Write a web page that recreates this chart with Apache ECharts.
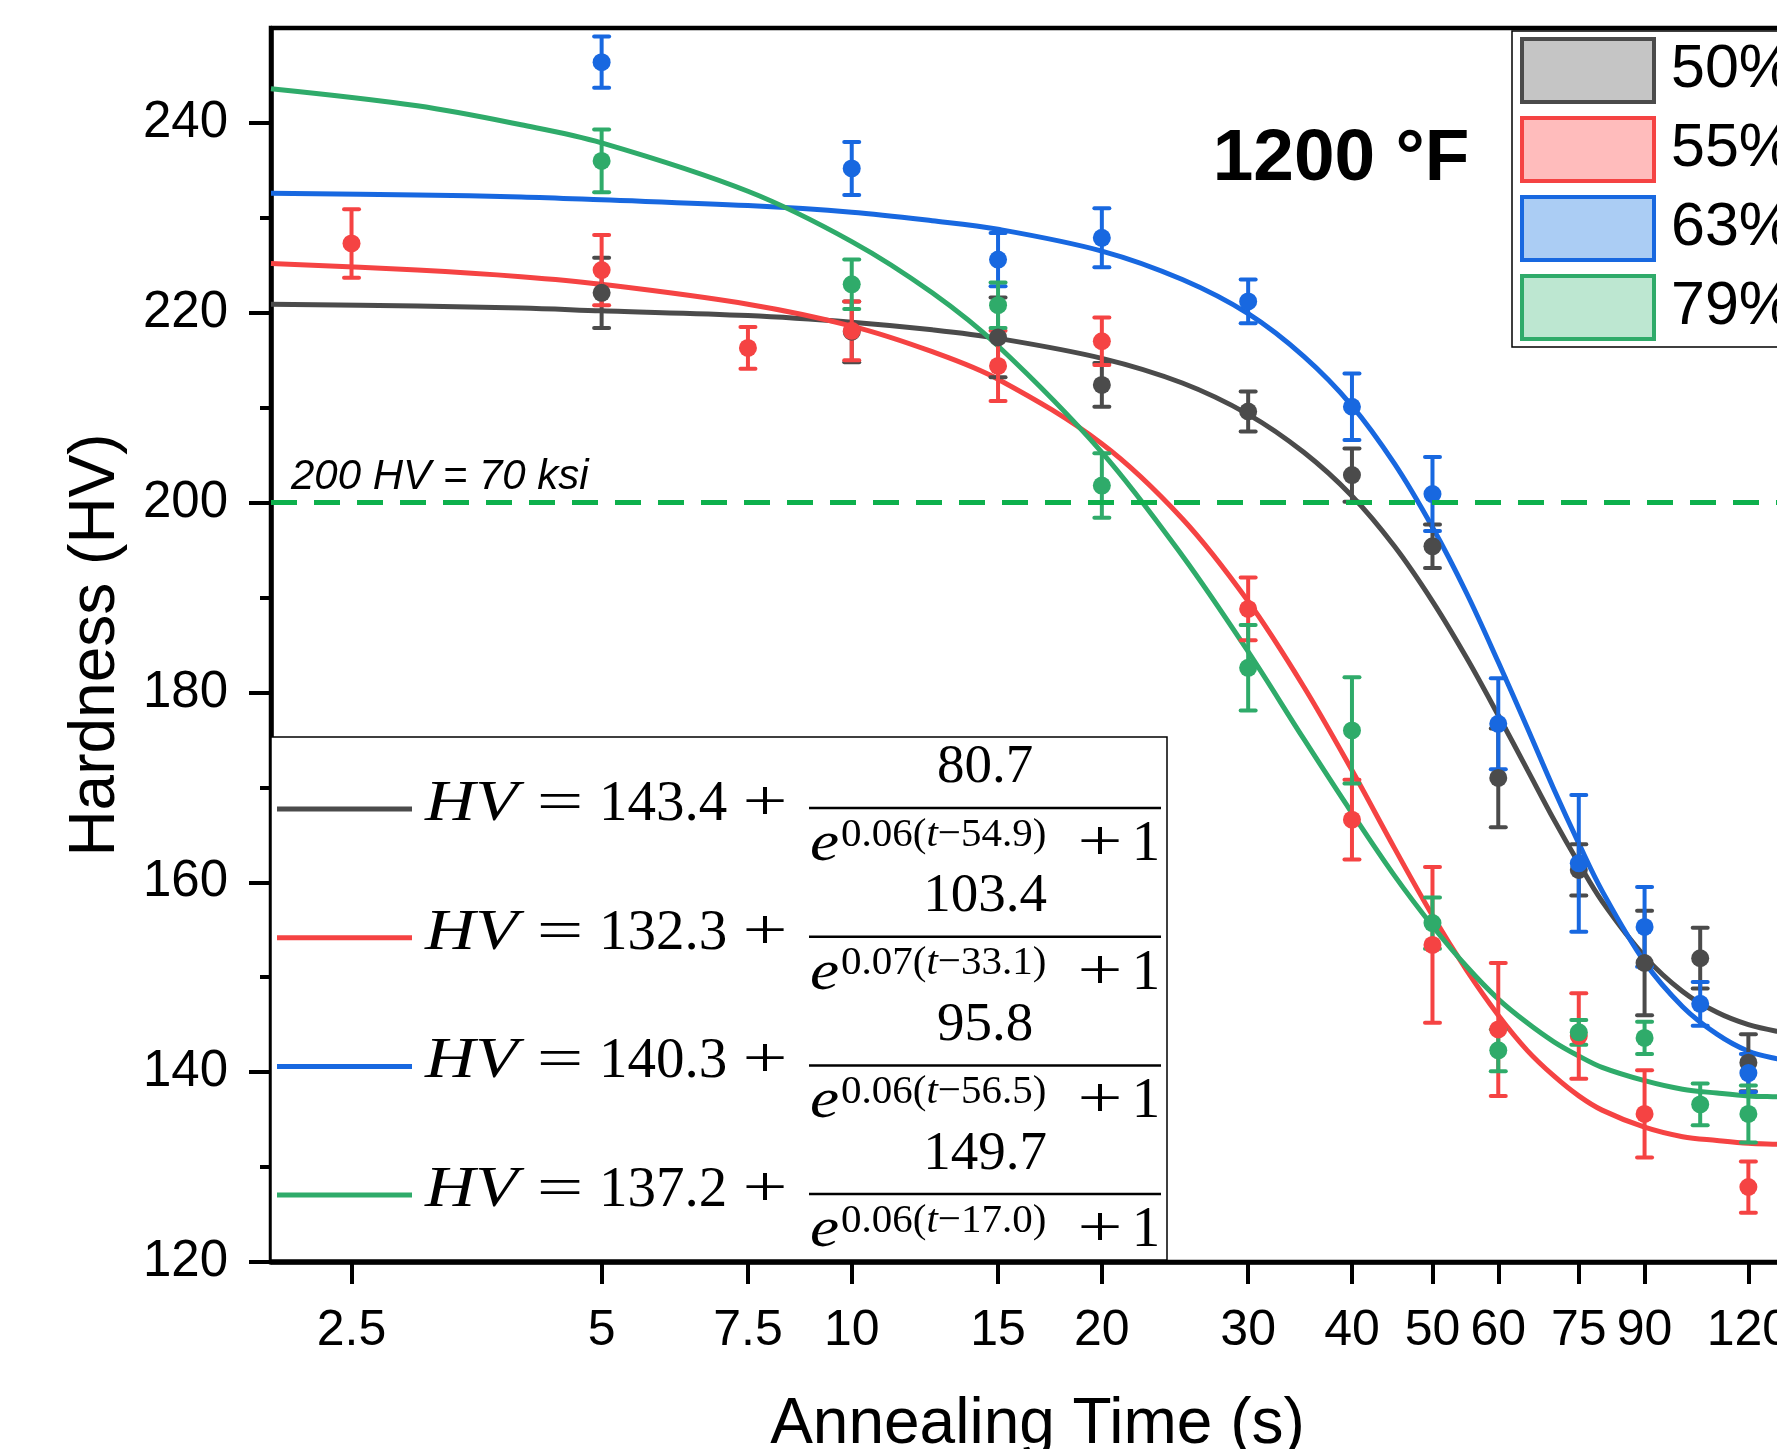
<!DOCTYPE html>
<html><head><meta charset="utf-8">
<script src="https://cdn.jsdelivr.net/npm/echarts@6/dist/echarts.min.js"></script>
<style>html,body{margin:0;padding:0;overflow:hidden;background:#fff}#c{width:1900px;height:1500px}</style>
</head><body><div id="c"></div><script>
// ---- data ----
const seriesNames = ['50%', '55%', '63%', '79%'];
const xTickLabels = [2.5, 5, 7.5, 10, 15, 20, 30, 40, 50, 60, 75, 90, 120];
const yTickLabels = [120, 140, 160, 180, 200, 220, 240];
const yMinorTicks = [130, 150, 170, 190, 210, 230];

const t50 = [5, 10, 15, 20, 30, 40, 50, 60, 75, 90, 105, 120];
const hv50 = [222.1, 218.0, 217.4, 212.4, 209.6, 202.9, 195.4, 171.0, 161.3, 151.5, 152.0, 141.0];
const err50 = [3.7, 3.2, 4.2, 2.3, 2.1, 2.8, 2.3, 5.2, 2.7, 5.5, 3.2, 3.0];

const t55 = [2.5, 5, 7.5, 10, 15, 20, 30, 40, 50, 60, 75, 90, 120];
const hv55 = [227.3, 224.5, 216.3, 218.1, 214.4, 217.0, 188.8, 166.6, 153.4, 144.5, 143.8, 135.6, 127.9];
const err55 = [3.6, 3.7, 2.2, 3.1, 3.7, 2.5, 3.3, 4.2, 8.2, 7.0, 4.5, 4.6, 2.7];

const t63 = [5, 10, 15, 20, 30, 40, 50, 60, 75, 90, 105, 120];
const hv63 = [246.4, 235.2, 225.6, 227.9, 221.2, 210.1, 200.9, 176.7, 162.0, 155.3, 147.2, 139.9];
const err63 = [2.7, 2.8, 2.8, 3.1, 2.3, 3.5, 3.9, 4.8, 7.2, 4.2, 2.3, 2.0];

const t79 = [5, 10, 15, 20, 30, 40, 50, 60, 75, 90, 105, 120];
const hv79 = [236.0, 223.0, 220.8, 201.8, 182.6, 176.0, 155.7, 142.3, 144.2, 143.6, 136.6, 135.6];
const err79 = [3.3, 2.6, 2.4, 3.4, 4.5, 5.6, 2.7, 2.2, 1.3, 1.7, 2.2, 3.0];

// fitted curves
const fitT = [2, 3, 4, 5, 7.5, 10, 12.5, 15, 20, 25, 30, 35, 40, 45, 50, 55, 60, 65, 70, 75, 80, 90, 100, 110, 120, 130, 140];
const fit50 = [220.9, 220.7, 220.5, 220.2, 219.7, 219.0, 218.2, 217.3, 215.2, 212.6, 209.3, 205.3, 200.7, 195.4, 189.6, 183.6, 177.6, 171.9, 166.6, 162.0, 158.0, 152.2, 148.5, 146.3, 145.0, 144.3, 143.9];
const fit55 = [225.2, 224.5, 223.8, 223.0, 220.9, 218.6, 215.9, 213.0, 206.2, 198.3, 189.6, 180.6, 171.8, 163.6, 156.5, 150.7, 146.0, 142.3, 139.6, 137.5, 136.0, 134.2, 133.2, 132.8, 132.5, 132.4, 132.3];
const fit63 = [232.6, 232.4, 232.2, 231.9, 231.3, 230.6, 229.7, 228.8, 226.5, 223.5, 219.9, 215.4, 210.2, 204.1, 197.4, 190.4, 183.2, 176.3, 169.8, 164.1, 159.1, 151.6, 146.9, 144.0, 142.2, 141.4, 140.9];
const fit79 = [243.6, 241.8, 239.8, 237.9, 232.8, 227.5, 222.1, 216.5, 205.3, 194.4, 184.3, 175.1, 167.3, 160.7, 155.4, 151.1, 147.7, 145.2, 143.2, 141.7, 140.5, 139.1, 138.2, 137.8, 137.5, 137.4, 137.3];

// equation texts
const eqA = ['143.4', '132.3', '140.3', '137.2'];
const eqB = ['80.7', '103.4', '95.8', '149.7'];
const eqK = ['0.06', '0.07', '0.06', '0.06'];
const eqT0 = ['54.9', '33.1', '56.5', '17.0'];

const thresholdHV = 200;
const thresholdText = '200 HV = 70 ksi';
const titleText = '1200 °F';

// ---- styles ----
const lineColors = ['#4b4b4b', '#f54343', '#1868e0', '#2fab6a'];
const fillColors = ['#c5c5c5', '#ffbcbc', '#abcdf4', '#bde7d1'];
const SANS = '"Liberation Sans", Arial, sans-serif';
const SERIF = '"Liberation Serif", "Times New Roman", serif';

const pts = [[t50, hv50, err50], [t55, hv55, err55], [t63, hv63, err63], [t79, hv79, err79]];
const fits = [fit50, fit55, fit63, fit79];

const series = [];
fits.forEach((f, i) => {
  const s = {
    type: 'line', name: 'fit' + i, data: fitT.map((t, j) => [t, f[j]]),
    showSymbol: false, smooth: 0.35, lineStyle: { color: lineColors[i], width: 5 },
    z: 2, silent: true
  };
  if (i === 0) {
    s.markLine = {
      symbol: 'none', silent: true, animation: false,
      data: [{ yAxis: thresholdHV }],
      lineStyle: { color: '#0db04c', width: 5, type: [26, 17] },
      label: { show: false }
    };
  }
  series.push(s);
});
pts.forEach((p, i) => {
  const [ts, hv, er] = p;
  const col = lineColors[i];
  series.push({
    type: 'custom', name: 'err' + i, z: 3, silent: true,
    data: ts.map((t, j) => [t, hv[j] - er[j], hv[j] + er[j]]),
    encode: { x: 0, y: [1, 2] },
    renderItem: (params, api) => {
      const t = api.value(0);
      const p1 = api.coord([t, api.value(2)]);
      const p2 = api.coord([t, api.value(1)]);
      const hw = 7.5;
      const st = { stroke: col, lineWidth: 4, lineCap: 'round' };
      return {
        type: 'group', children: [
          { type: 'line', shape: { x1: p1[0], y1: p1[1], x2: p2[0], y2: p2[1] }, style: { stroke: col, lineWidth: 4 } },
          { type: 'line', shape: { x1: p1[0] - hw, y1: p1[1], x2: p1[0] + hw, y2: p1[1] }, style: st },
          { type: 'line', shape: { x1: p2[0] - hw, y1: p2[1], x2: p2[0] + hw, y2: p2[1] }, style: st }
        ]
      };
    }
  });
  series.push({
    type: 'scatter', name: seriesNames[i], z: 4,
    data: ts.map((t, j) => [t, hv[j]]),
    symbol: 'circle', symbolSize: 18,
    itemStyle: { color: col, opacity: 1 }
  });
});

// ---- equation legend (graphic) ----
const graphics = [];
const eqBox = { x: 271, y: 737, w: 896, h: 523 };
graphics.push({ type: 'rect', shape: { x: eqBox.x, y: eqBox.y, width: eqBox.w, height: eqBox.h }, style: { fill: '#fff', stroke: '#000', lineWidth: 1.5 }, z: 10 });
function txt(text, x, y, font, align, sx) {
  return {
    type: 'text', z: 11, x: x, y: y, scaleX: sx || 1,
    style: { text: text, font: font, fill: '#000', align: align, verticalAlign: 'middle', textAlign: align, textVerticalAlign: 'middle' }
  };
}
for (let i = 0; i < 4; i++) {
  const by = 808 + i * 128.7;
  graphics.push({ type: 'line', z: 11, shape: { x1: 277, y1: by + 1, x2: 412, y2: by + 1 }, style: { stroke: lineColors[i], lineWidth: 5 } });
  graphics.push(txt('HV', 425, by - 3, 'italic 57px ' + SERIF, 'left', 1.22));
  graphics.push(txt('=', 560, by - 3, '57px ' + SERIF, 'center', 1.45));
  graphics.push(txt(eqA[i], 599, by - 3, '57px ' + SERIF, 'left'));
  graphics.push(txt('+', 765, by - 3, '57px ' + SERIF, 'center', 1.4));
  graphics.push({ type: 'line', z: 11, shape: { x1: 809, y1: by, x2: 1161, y2: by }, style: { stroke: '#000', lineWidth: 2.5 } });
  graphics.push(txt(eqB[i], 985, by - 40, '55px ' + SERIF, 'center'));
  graphics.push(txt('e', 810, by + 37, 'italic 57px ' + SERIF, 'left', 1.15));
  graphics.push({
    type: 'text', z: 11, x: 841, y: by + 27,
    style: {
      text: '{n|' + eqK[i] + '(}{i|t}{n|\u2212' + eqT0[i] + ')}',
      align: 'left', verticalAlign: 'middle', textAlign: 'left', textVerticalAlign: 'middle',
      rich: {
        n: { font: '41px ' + SERIF, fill: '#000', fontSize: 41, fontFamily: SERIF },
        i: { font: 'italic 41px ' + SERIF, fill: '#000', fontSize: 41, fontFamily: SERIF, fontStyle: 'italic' }
      }
    }
  });
  graphics.push(txt('+', 1100, by + 37, '57px ' + SERIF, 'center', 1.4));
  graphics.push(txt('1', 1146, by + 37, '57px ' + SERIF, 'center'));
}
graphics.push(txt(thresholdText, 291, 477, 'italic 42px ' + SANS, 'left'));
graphics.push(txt(titleText, 1341, 160, 'bold 73px ' + SANS, 'center'));

const chart = echarts.init(document.getElementById('c'), null, { renderer: 'canvas' });
chart.setOption({
  animation: false,
  backgroundColor: '#fff',
  grid: { left: 271, top: 28, width: 1533, height: 1234, show: true, borderColor: '#000', borderWidth: 4.5, backgroundColor: 'transparent' },
  xAxis: {
    type: 'log', logBase: 10, min: 2, max: 140,
    name: 'Annealing Time (s)', nameLocation: 'middle', nameGap: 131,
    nameTextStyle: { fontSize: 64, fontFamily: SANS, color: '#000' },
    axisLine: { lineStyle: { color: '#000', width: 4.5 } },
    axisTick: { show: true, inside: false, length: 22, customValues: xTickLabels, lineStyle: { color: '#000', width: 4 } },
    axisLabel: { customValues: xTickLabels, margin: 44, fontSize: 50, fontFamily: SANS, color: '#000', formatter: v => String(+(+v).toPrecision(6)) },
    minorTick: { show: false }, splitLine: { show: false }
  },
  yAxis: [{
    type: 'value', min: 120, max: 250, interval: 20,
    name: 'Hardness (HV)', nameLocation: 'middle', nameGap: 143, nameRotate: 90,
    nameTextStyle: { fontSize: 64, fontFamily: SANS, color: '#000' },
    axisLine: { show: true, lineStyle: { color: '#000', width: 4.5 } },
    axisTick: { show: true, inside: false, length: 22, customValues: yTickLabels, lineStyle: { color: '#000', width: 4 } },
    axisLabel: { customValues: yTickLabels, margin: 43, fontSize: 51, fontFamily: SANS, color: '#000' },
    splitLine: { show: false }
  }, {
    type: 'value', min: 120, max: 250, position: 'left',
    axisLine: { show: false }, axisLabel: { show: false }, splitLine: { show: false },
    axisTick: { show: true, inside: false, length: 11, customValues: yMinorTicks, lineStyle: { color: '#000', width: 4 } }
  }],
  legend: {
    orient: 'vertical', left: 1512, top: 31,
    data: seriesNames.map((n, i) => ({ name: n, itemStyle: { color: fillColors[i], borderColor: lineColors[i], borderWidth: 4 } })),
    icon: 'rect', itemWidth: 132, itemHeight: 63, itemGap: 12,
    padding: [6, 8, 6, 8],
    backgroundColor: '#fff', borderColor: '#000', borderWidth: 1.5,
    textStyle: { fontSize: 61, lineHeight: 63, fontFamily: SANS, color: '#000', padding: [0, 0, 0, 12] },
    selectedMode: false
  },
  series: series,
  graphic: graphics
});
</script></body></html>
